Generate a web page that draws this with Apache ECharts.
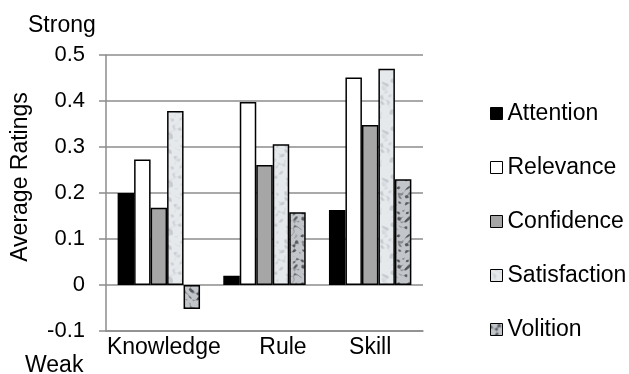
<!DOCTYPE html>
<html>
<head>
<meta charset="utf-8">
<script src="https://cdn.jsdelivr.net/npm/echarts@6/dist/echarts.min.js"></script>
<style>
  html, body { margin: 0; padding: 0; background: #fff; }
  #chart { width: 629px; height: 374px; }
</style>
</head>
<body>
<div id="chart"></div>
<script>
// Categories and ratings per motivation factor
const categories = ['Knowledge', 'Rule', 'Skill'];
const attention    = [0.200, 0.020, 0.163];
const relevance    = [0.273, 0.398, 0.451];
const confidence   = [0.168, 0.261, 0.348];
const satisfaction = [0.378, 0.306, 0.470];
const volition     = [-0.052, 0.158, 0.230];
const yTicks = { min: -0.1, max: 0.5, step: 0.1 };

const FONT = 'Liberation Sans, Arial, sans-serif';

// Small deterministic mottled textures used as bar fills
function texture(base, spot, sx, sy, cut) {
  const c = document.createElement('canvas');
  c.width = 48; c.height = 48;
  const ctx = c.getContext('2d');
  ctx.fillStyle = base;
  ctx.fillRect(0, 0, 48, 48);
  const img = ctx.getImageData(0, 0, 48, 48);
  const sp = spot.match(/\w\w/g).map(h => parseInt(h, 16));
  const t = Math.PI * 2 / 48;
  for (let y = 0; y < 48; y++) {
    for (let x = 0; x < 48; x++) {
      const v = Math.sin(x * t * sx + 2.3 * Math.sin(y * t * 2 + 0.7))
              * Math.cos(y * t * sy - 1.9 * Math.sin(x * t * 3 + 1.3))
              + 0.4 * Math.sin(x * t * 5 + 3 * Math.cos(y * t * 3));
      const a = Math.max(0, Math.min(1, (v - cut) / 0.9));
      const i = (y * 48 + x) * 4;
      img.data[i]     = img.data[i]     * (1 - a) + sp[0] * a;
      img.data[i + 1] = img.data[i + 1] * (1 - a) + sp[1] * a;
      img.data[i + 2] = img.data[i + 2] * (1 - a) + sp[2] * a;
    }
  }
  ctx.putImageData(img, 0, 0);
  return { image: c, repeat: 'repeat' };
}

const satFill = texture('#e6e9ec', 'c6cbd0', 1, 1, 0.2);
const volFill = texture('#c2c5c9', '55595e', 3, 4, 0.1);

const border = { borderColor: '#000', borderWidth: 1.5 };

function bar(name, data, color) {
  return {
    name: name,
    type: 'bar',
    data: data,
    barGap: '0%',
    barCategoryGap: '22%',
    itemStyle: Object.assign({ color: color }, border),
    emphasis: { disabled: true }
  };
}

const chart = echarts.init(document.getElementById('chart'), null, { renderer: 'canvas' });

chart.setOption({
  animation: false,
  backgroundColor: '#fff',
  textStyle: { fontFamily: FONT, color: '#000' },
  grid: { left: 106, right: 206, top: 55, bottom: 43, containLabel: false },
  xAxis: {
    type: 'category',
    data: categories,
    axisLine: { show: true, onZero: false, lineStyle: { color: '#8c8c8c', width: 1.5 } },
    axisTick: { show: false },
    axisLabel: {
      interval: 0,
      hideOverlap: false,
      color: '#000', fontSize: 23, fontFamily: FONT, margin: 5,
      formatter: (v, i) => ['{k|', '{r|', '{s|'][i] + v + '}',
      rich: {
        k: { fontSize: 23, fontFamily: FONT, padding: [0, 0, 0, 10] },
        r: { fontSize: 23, fontFamily: FONT, padding: [0, 0, 0, 37] },
        s: { fontSize: 23, fontFamily: FONT, padding: [0, 0, 0, 0] }
      }
    }
  },
  yAxis: {
    type: 'value',
    min: yTicks.min,
    max: yTicks.max,
    interval: yTicks.step,
    axisLine: { show: true, lineStyle: { color: '#8c8c8c', width: 1.5 } },
    axisTick: { show: true, length: 7, lineStyle: { color: '#8c8c8c', width: 1.5 } },
    splitLine: { show: true, lineStyle: { color: '#8c8c8c', width: 1.5 } },
    axisLabel: {
      color: '#000', fontSize: 22, fontFamily: FONT, margin: 21,
      formatter: v => (Math.round(v * 10) / 10).toString()
    }
  },
  legend: {
    orient: 'vertical',
    left: 485,
    top: 97,
    itemWidth: 12,
    itemHeight: 12,
    itemGap: 31,
    icon: 'rect',
    selectedMode: false,
    textStyle: { fontSize: 23, fontFamily: FONT, color: '#000', lineHeight: 23 },
    itemStyle: { borderColor: '#000', borderWidth: 1 },
    data: ['Attention', 'Relevance', 'Confidence', 'Satisfaction', 'Volition']
  },
  graphic: [
    { type: 'text', left: 28, top: 14,
      style: { text: 'Strong', font: '23px ' + FONT, fill: '#000' } },
    { type: 'text', left: 25, top: 354,
      style: { text: 'Weak', font: '23px ' + FONT, fill: '#000' } },
    { type: 'text', x: 21, y: 177, rotation: Math.PI / 2,
      style: { text: 'Average Ratings', font: '23px ' + FONT, fill: '#000',
               align: 'center', verticalAlign: 'middle' } }
  ],
  series: [
    bar('Attention', attention, '#000'),
    bar('Relevance', relevance, '#fff'),
    bar('Confidence', confidence, '#a6a6a6'),
    bar('Satisfaction', satisfaction, satFill),
    bar('Volition', volition, volFill)
  ]
});
</script>
</body>
</html>
